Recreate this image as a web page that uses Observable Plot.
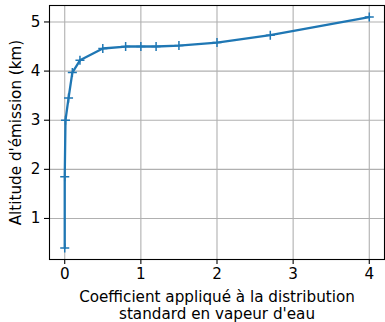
<!DOCTYPE html>
<html><head><meta charset="utf-8">
<script src="https://cdn.jsdelivr.net/npm/d3@7"></script>
<script src="https://cdn.jsdelivr.net/npm/@observablehq/plot@0.6"></script>
<style>body{margin:0;background:#fff;} svg{display:block;}</style>
</head><body><div id="chart"></div>
<script>
const coef = [0, 0, 0.01, 0.05, 0.1, 0.2, 0.5, 0.8, 1.0, 1.2, 1.5, 2.0, 2.7, 4.0];
const altitude = [0.4, 1.85, 3.0, 3.45, 3.97, 4.22, 4.46, 4.5, 4.5, 4.5, 4.52, 4.58, 4.73, 5.1];
const xTicks = [0, 1, 2, 3, 4];
const yTicks = [1, 2, 3, 4, 5];
const xLabel = "Coefficient appliqué à la distribution\nstandard en vapeur d'eau";
const yLabel = "Altitude d'émission (km)";
const data = coef.map((c, i) => ({c, a: altitude[i]}));
const plusSymbol = {draw(ctx, size){const r = Math.sqrt(size)/2; ctx.moveTo(-r,0); ctx.lineTo(r,0); ctx.moveTo(0,-r); ctx.lineTo(0,r);}};
const FS = 15.2;
const chart = Plot.plot({
  width: 385, height: 322,
  marginLeft: 49, marginRight: 1, marginTop: 5, marginBottom: 63,
  style: {fontFamily: "'DejaVu Sans'", fontSize: FS + "px", color: "#000", background: "#fff"},
  x: {domain: [-0.2, 4.2]},
  y: {domain: [0.165, 5.335]},
  marks: [
    Plot.ruleX(xTicks, {stroke: "#b0b0b0", strokeWidth: 1.1}),
    Plot.ruleY(yTicks, {stroke: "#b0b0b0", strokeWidth: 1.1}),
    Plot.axisX(xTicks, {tickSize: 5, tickPadding: 4, fontSize: FS, label: null, stroke: "#000", fill: "#000", strokeWidth: 1.1}),
    Plot.axisY(yTicks, {tickSize: 5, tickPadding: 4, fontSize: FS, label: null, stroke: "#000", fill: "#000", strokeWidth: 1.1}),
    Plot.text([xLabel], {text: d => d, frameAnchor: "bottom", textAnchor: "middle", lineAnchor: "top", dy: 30.5, lineHeight: 1.12, fontSize: FS, fill: "#000"}),
    Plot.text([yLabel], {text: d => d, frameAnchor: "left", textAnchor: "middle", rotate: -90, lineAnchor: "middle", dx: -33, fontSize: FS, fill: "#000"}),
    Plot.line(data, {x: "c", y: "a", stroke: "#1f77b4", strokeWidth: 2.3}),
    Plot.dot(data, {x: "c", y: "a", symbol: plusSymbol, r: 5.1, stroke: "#1f77b4", fill: "none", strokeWidth: 1.5}),
    Plot.frame({stroke: "#000", strokeWidth: 1.1})
  ]
});
document.getElementById("chart").appendChild(chart);
</script></body></html>
